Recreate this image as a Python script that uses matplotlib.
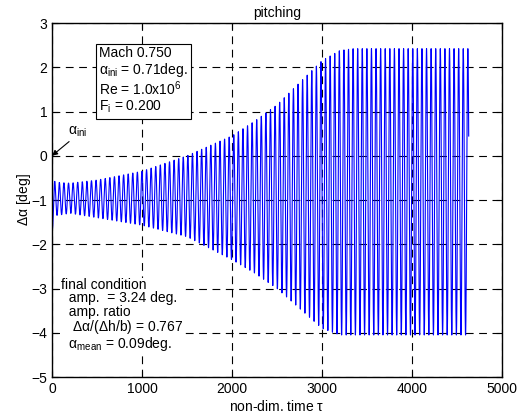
import numpy as np
import matplotlib
matplotlib.use("Agg")
import matplotlib.pyplot as plt

# ---- data ----
alpha_ini = 0.0          # start value at tau = 0
t_end = 4630.0
period = 51.0            # oscillation period in tau
# amplitude envelope (tau, upper peak, lower trough) in deg
env_t = [5, 50, 200, 500, 1000, 1500, 2000, 2250, 2500, 2750, 3000, 3200, 3350, 4630]
env_up = [-0.55, -0.6, -0.62, -0.55, -0.35, 0.0, 0.45, 0.78, 1.15, 1.65, 2.15, 2.38, 2.42, 2.42]
env_lo = [-1.65, -1.35, -1.3, -1.4, -1.57, -1.83, -2.35, -2.65, -3.0, -3.45, -3.9, -4.05, -4.05, -4.05]

xticks = [0, 1000, 2000, 3000, 4000, 5000]
yticks = [-5, -4, -3, -2, -1, 0, 1, 2, 3]

plt.rcParams["font.family"] = ["Liberation Sans", "DejaVu Sans"]
plt.rcParams["mathtext.fontset"] = "custom"
plt.rcParams["mathtext.rm"] = "Liberation Sans"
plt.rcParams["mathtext.it"] = "Liberation Sans"
plt.rcParams["font.size"] = 10

# build the time history from the envelope
tau = np.linspace(env_t[0], t_end, 30000)
up = np.interp(tau, env_t, env_up)
lo = np.interp(tau, env_t, env_lo)
mid = 0.5 * (up + lo)
amp = 0.5 * (up - lo)
sig = mid - amp * np.cos(2 * np.pi * (tau - env_t[0]) / period)
tau = np.concatenate([[0.0], tau])
sig = np.concatenate([[alpha_ini], sig])

fig = plt.figure(figsize=(5.22, 4.19), dpi=100)
ax = fig.add_axes([52 / 522, 1 - 377 / 419, 450 / 522, 354 / 419])

ax.plot(tau, sig, color="#0000ff", linewidth=0.8)

ax.set_xlim(0, 5000)
ax.set_ylim(-5, 3)
ax.set_xticks(xticks)
ax.set_yticks(yticks)
ax.tick_params(direction="in", top=True, right=True, length=4, labelsize=10)
ax.grid(True, color="black", linestyle=(0, (7, 5)), linewidth=0.8)
for s in ax.spines.values():
    s.set_linewidth(1.0)

ax.set_title("pitching", fontsize=10, pad=4)
ax.set_xlabel(r"non-dim. time $\tau$", fontsize=10, labelpad=2)
ax.set_ylabel(r"$\Delta\alpha$ [deg]", fontsize=10, labelpad=-1)

ax.text(0.105, 0.935,
        "Mach 0.750\n" r"$\alpha_{\rm ini}$ = 0.71deg." "\n"
        r"Re = 1.0x10$^6$" "\n" r"F$_{\rm i}$ = 0.200",
        transform=ax.transAxes, va="top", ha="left", fontsize=10, linespacing=1.05,
        bbox=dict(boxstyle="square,pad=0.25", facecolor="white", edgecolor="black", linewidth=0.8),
        zorder=5)

ax.annotate("", xy=(0, alpha_ini), xytext=(0.038, 0.665),
            textcoords="axes fraction",
            arrowprops=dict(arrowstyle="-|>", color="black", lw=0.8, mutation_scale=8,
                            shrinkA=0, shrinkB=0),
            zorder=6)
ax.text(0.036, 0.672, r"$\alpha_{\rm ini}$", transform=ax.transAxes,
        ha="left", va="bottom", fontsize=10, zorder=6)

ax.text(0.02, 0.28,
        "final condition\n"
        "  amp.  = 3.24 deg.\n"
        "  amp. ratio\n"
        r"   $\Delta\alpha/(\Delta$h/b) = 0.767" "\n"
        r"  $\alpha_{\rm mean}$ = 0.09deg.",
        transform=ax.transAxes, va="top", ha="left", fontsize=10, linespacing=0.95,
        bbox=dict(boxstyle="square,pad=0.1", facecolor="white", edgecolor="none"),
        zorder=5)

fig.savefig("out.png", dpi=100)
